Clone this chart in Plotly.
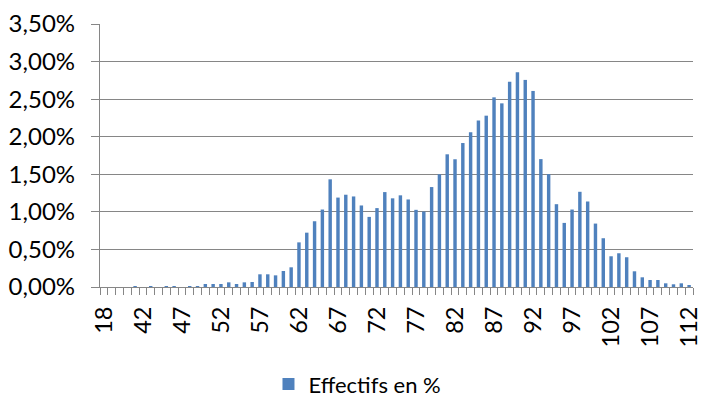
import plotly.graph_objects as go

ages = [18, 38, 39, 40, 41] + list(range(42, 113))
values = [
    0.0, 0.0, 0.0, 0.0, 0.01,            # 18, 38-41
    0.0, 0.01, 0.0, 0.01, 0.01,          # 42-46
    0.0, 0.01, 0.01, 0.04, 0.04,         # 47-51
    0.04, 0.062, 0.04, 0.062, 0.067,     # 52-56
    0.169, 0.169, 0.155, 0.213, 0.262,   # 57-61
    0.594, 0.723, 0.875, 1.031, 1.433,   # 62-66
    1.19, 1.228, 1.205, 1.085, 0.933,    # 67-71
    1.05, 1.263, 1.18, 1.22, 1.165,      # 72-76
    1.027, 1.004, 1.33, 1.50, 1.766,     # 77-81
    1.70, 1.916, 2.058, 2.217, 2.28,     # 82-86
    2.524, 2.444, 2.73, 2.858, 2.756,    # 87-91
    2.609, 1.702, 1.502, 1.102, 0.853,   # 92-96
    1.031, 1.267, 1.138, 0.844, 0.649,   # 97-101
    0.409, 0.449, 0.396, 0.209, 0.129,   # 102-106
    0.093, 0.093, 0.049, 0.036, 0.049,   # 107-111
    0.022,                               # 112
]
series_name = "Effectifs en %"

cats = [str(a) for a in ages]
ticktext = [c if i % 5 == 0 else "" for i, c in enumerate(cats)]
yvals = [v / 100 for v in values]

fig = go.Figure()
fig.add_trace(go.Bar(
    x=cats, y=yvals, name=series_name,
    marker=dict(color="#4F81BD", line=dict(width=0)),
))

font = "Lato, 'Open Sans', sans-serif"
fig.update_layout(
    width=701, height=399,
    margin=dict(l=100, r=8, t=24, b=112),
    paper_bgcolor="white", plot_bgcolor="white",
    separators=", ",
    bargap=0.56,
    font=dict(family=font, size=22, color="#000000"),
    showlegend=True,
    legend=dict(orientation="h", xref="container", yref="container",
                x=0.383, xanchor="left", y=0.037, yanchor="middle",
                font=dict(size=22), itemwidth=30),
)
fig.update_xaxes(
    type="category", tickmode="array", tickvals=cats, ticktext=ticktext,
    tickangle=-90, tickson="boundaries", ticks="outside", ticklen=7,
    tickcolor="#868686", tickwidth=1.3, automargin=False,
    ticklabelstandoff=9,
    showline=True, linecolor="#868686", linewidth=1.3,
    showgrid=False, tickfont=dict(size=23.5),
)
fig.update_yaxes(
    range=[0, 0.035], dtick=0.005, tickformat=".2%",
    showgrid=True, gridcolor="#868686", gridwidth=1.3,
    showline=True, linecolor="#868686", linewidth=1.3,
    ticks="outside", ticklen=8, tickcolor="#868686", tickwidth=1.3,
    ticklabelstandoff=11,
    zeroline=False, tickfont=dict(size=24), automargin=False,
)

fig.write_html(
    "out.html",
    config={"displayModeBar": False},
    post_script="document.body.style.margin='0';document.body.style.overflow='hidden';",
)
